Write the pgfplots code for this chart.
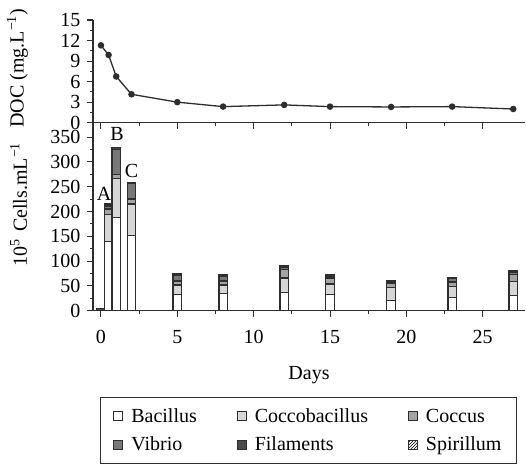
\documentclass[border=0pt]{standalone}
\usepackage{fontspec}
\setmainfont{Liberation Serif}
\usepackage{pgfplots}
\pgfplotsset{compat=1.18}
\usepackage{pgfplotstable}
\usetikzlibrary{patterns}

\definecolor{cocco}{HTML}{D6D6D6}
\definecolor{coccus}{HTML}{A4A4A4}
\definecolor{vibrio}{HTML}{787878}
\definecolor{filam}{HTML}{4A4A4A}
\definecolor{edge}{HTML}{2E2E2E}

% cell counts, 10^5 cells/mL, stacked bottom to top
\pgfplotstableread{
day  bac  cb  coc  vib  fil
0    0    0   0    0    5
0.5  139  55  11   6    4
1    188  78  9    50   4
2    152  63  10   31   3
5    33   19  8    12   2
8    35   17  8    10   2
12   37   29  17   5    3
15   32   22  12   4    2
19   20   26  10   3    2
23   26   22  10   7    1
27   31   28  14   5    2
}\cells

\pgfplotsset{
  panel/.style={
    scale only axis, width=432pt,
    xmin=-0.52, xmax=27.77,
    axis lines=left, axis line style={-, edge, line width=1.1pt},
    tick align=outside, major tick length=6pt, minor tick length=3pt,
    tick style={edge, line width=1pt},
    xtick={0,5,...,25}, minor x tick num=1, minor y tick num=1,
    tick label style={font=\fontsize{20}{24}\selectfont},
    yticklabel style={xshift=-3pt},
    label style={font=\fontsize{20}{24}\selectfont},
    /pgf/number format/assume math mode=true,
  },
  sq/.style={legend image code/.code={%
    \draw[##1, line width=0.9pt] (0pt,-4.5pt) rectangle (9pt,4.5pt);}},
}

\begin{document}
\begin{tikzpicture}[font=\fontsize{20}{24}\selectfont]
\path[use as bounding box] (0,0) rectangle (526pt,467pt);

\begin{axis}[panel,
  at={(93pt,344.3pt)}, anchor=south west, height=102.7pt,
  ymin=0, ymax=15, ytick={0,3,...,15}, xticklabels={},
  ylabel={DOC (mg.L\textsuperscript{−1})},
  ylabel style={at={(axis description cs:-0.175,0.53)}, anchor=center},
]
\addplot[edge, line width=1.3pt, mark=*, mark size=2.6pt, mark options={fill=edge}] coordinates {
  (0,11.3) (0.5,9.9) (1,6.75) (2,4.15) (5,3.0) (8,2.35)
  (12,2.6) (15,2.35) (19,2.3) (23,2.35) (27,2.0)
};
\end{axis}

\begin{axis}[panel,
  at={(93pt,344.3pt)}, anchor=north west, height=188pt,
  ymin=0, ymax=379, ytick={0,50,...,350},
  xticklabel style={yshift=-10pt},
  ybar stacked, bar width=0.55,
  every axis plot/.append style={draw=edge, line width=1.2pt},
  xlabel={Days},
  xlabel style={at={(axis description cs:0.5,-0.342)}, anchor=center},
  ylabel={10\textsuperscript{5}\hspace{2pt} Cells.mL\textsuperscript{−1}},
  ylabel style={at={(axis description cs:-0.172,0.565)}, anchor=center},
  legend columns=3, legend cell align=left,
  legend style={at={(0.016,-0.459)}, anchor=north west, draw=edge, line width=1pt,
    inner xsep=13pt, inner ysep=9pt,
    /tikz/every even column/.append style={column sep=38pt},
    /tikz/every odd column/.append style={column sep=6pt},
    /tikz/row sep=9pt,
    font=\fontsize{20}{24}\selectfont},
]
\addplot[fill=white, sq] table[x=day, y=bac] {\cells};
\addlegendentry{Bacillus}
\addplot[fill=cocco, sq] table[x=day, y=cb] {\cells};
\addlegendentry{Coccobacillus}
\addplot[fill=coccus, sq] table[x=day, y=coc] {\cells};
\addlegendentry{Coccus}
\addplot[fill=vibrio, sq] table[x=day, y=vib] {\cells};
\addlegendentry{Vibrio}
\addplot[fill=filam, sq] table[x=day, y=fil] {\cells};
\addlegendentry{Filaments}
\addlegendimage{sq, draw=edge, pattern=north east lines}
\addlegendentry{Spirillum}

\node at (rel axis cs:0.0255,0.620) {A};
\node at (rel axis cs:0.0555,0.942) {B};
\node at (rel axis cs:0.0891,0.741) {C};
\end{axis}
\end{tikzpicture}
\end{document}
